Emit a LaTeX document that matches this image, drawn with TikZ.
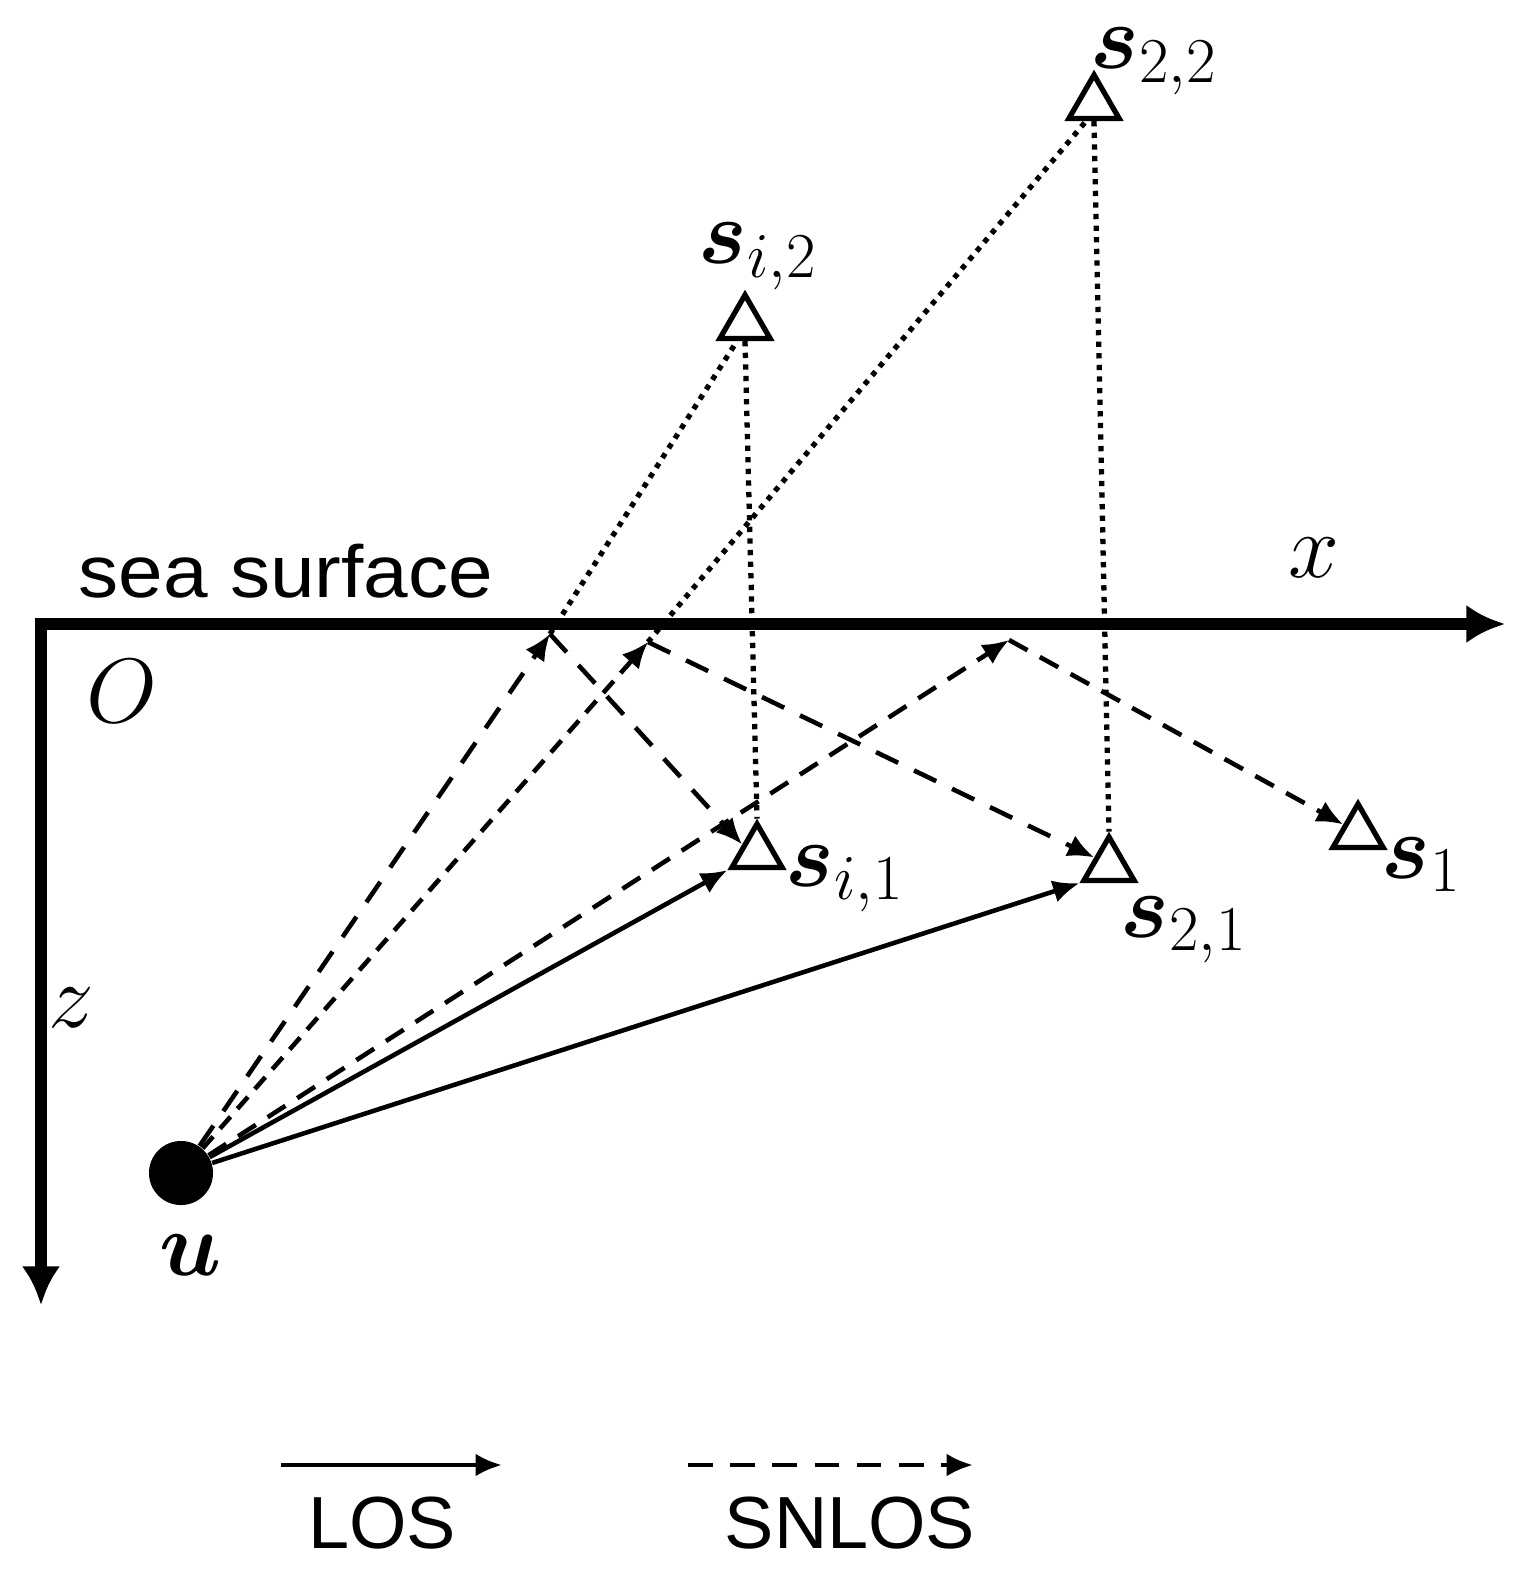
\RequirePackage{fix-cm}
\documentclass[tikz,border=0pt]{standalone}
\usepackage{amsmath}
\usepackage{fontspec}
\usepackage{bm}
\usepackage{graphicx}
\newfontfamily\arialfont{Liberation Sans}
\usetikzlibrary{arrows.meta,shapes.geometric,calc}
\begin{document}
\begin{tikzpicture}[x=0.01cm,y=-0.01cm,
  lab/.style={inner sep=0pt, font=\fontsize{26}{30}\selectfont},
  sans/.style={inner sep=0pt, font=\arialfont\fontsize{21}{25}\selectfont},
  tri/.style={draw, regular polygon, regular polygon sides=3, minimum size=0.58cm, inner sep=0pt, line width=1.5pt},
  axisline/.style={line width=3.4pt, {Latex[length=11pt,width=11pt]}-{Latex[length=11pt,width=11pt]}},
  los/.style={line width=1.3pt, -{Latex[length=7.5pt,width=6.5pt]}},
  snlos/.style={los, dash pattern=on 7pt off 5pt},
  snlosb/.style={los, dash pattern=on 4.5pt off 3pt},
  snlosc/.style={los, dash pattern=on 6pt off 4pt},
  dotline/.style={line width=1.5pt, dash pattern=on 1.5pt off 1.8pt}]
\useasboundingbox (0,0) rectangle (1530,1574);

% points
\coordinate (O) at (41,624);
\coordinate (xend) at (1505,624);
\coordinate (zend) at (41,1305);
\coordinate (P1) at (550,634);
\coordinate (P2) at (648,642);
\coordinate (P3) at (1009,640);

% sensors and user
\node[circle, fill, minimum size=0.64cm, inner sep=0pt] (u) at (181,1173) {};
\node[tri] (T22) at (1094,104) {};
\node[tri] (Ti2) at (745,324) {};
\node[tri] (Ti1) at (757,853) {};
\node[tri] (T21) at (1109,866) {};
\node[tri] (T1) at (1358,833) {};

% dotted image lines
\draw[dotline] (P1) -- ($(Ti2.south)+(-8,0)$);
\draw[dotline] (Ti2.south) -- (Ti1.north);
\draw[dotline] (P2) -- ($(T22.south)+(-8,0)$);
\draw[dotline] (T22.south) -- (T21.north);

% SNLOS paths
\draw[snlos] (u) -- (P1);
\draw[snlosb] (u) -- (P2);
\draw[snlosc] (u) -- (P3);
\draw[snlos] (P1) -- (Ti1.side 1);
\draw[snlos] (P2) -- (T21.side 1);
\draw[snlosc] (P3) -- (T1.side 1);

% LOS paths
\draw[los] (u) -- (Ti1.corner 2);
\draw[los] (u) -- (T21.corner 2);

% axes
\draw[axisline] (zend) -- (O) -- (xend);

% labels
\node[lab, anchor=base west] (L22) at (1090,69) {$\bm{s}_{2,2}$};
\node[lab, anchor=base west] (Li2) at (698,264) {$\bm{s}_{i,2}$};
\node[lab, anchor=base west] (Li1) at (785,886) {$\bm{s}_{i,1}$};
\node[lab, anchor=base west] (L21) at (1120,937) {$\bm{s}_{2,1}$};
\node[lab, anchor=base west] (L1) at (1381,878) {$\bm{s}_{1}$};
\node[lab, anchor=base] (Lu) at (191,1275) {$\bm{u}$};
\node[lab, anchor=base] (Lx) at (1314,578) {$x$};
\node[lab, anchor=base] (Lz) at (71,1027) {$z$};
\node[lab, anchor=base] (LO) at (122,722) {$O$};
\node[sans, anchor=base west] (sea) at (78,598) {\scalebox{1.085}[1]{sea surface}};

% legend
\coordinate (la) at (281,1465);
\coordinate (lb) at (502,1465);
\coordinate (sa) at (688,1465);
\coordinate (sb) at (973,1465);
\draw[los] (la) -- (lb);
\draw[snlos] (sa) -- (sb);
\node[sans, anchor=base] (LOS) at (382,1548) {LOS};
\node[sans, anchor=base] (SNLOS) at (850,1548) {SNLOS};
\end{tikzpicture}
\end{document}
